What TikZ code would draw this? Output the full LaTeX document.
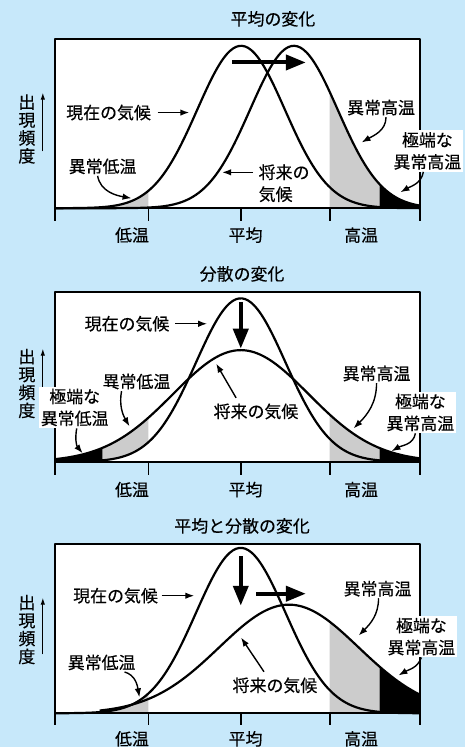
\documentclass[tikz,border=0pt]{standalone}
\usepackage{fontspec}
\setmainfont{Noto Sans CJK JP}[FakeBold=0.35]
\usetikzlibrary{arrows.meta}
\definecolor{skyback}{RGB}{199,232,250}
\definecolor{tailgray}{RGB}{204,204,204}
\tikzset{
  curve/.style={line width=2.2pt},
  frame/.style={line width=1.8pt},
  lbl/.style={inner sep=1.5pt},
  twolbl/.style={inner sep=1.5pt, align=center, font=\fontsize{17}{22}\selectfont},
  xlbl/.style={twolbl, fill=white, inner sep=2pt},
  freqlbl/.style={inner sep=0pt, align=center, font=\fontsize{17}{18}\selectfont},
  note/.style={line width=1.4pt, -{Latex[length=9pt,width=6.5pt]}},
  yarrow/.style={line width=1.1pt, -{Latex[length=7pt,width=4.5pt]}},
  shiftarrow/.style={line width=4pt, -{Triangle[length=20pt,width=15pt]}},
}
\begin{document}
\begin{tikzpicture}[x=1pt,y=1pt,font=\fontsize{17}{17.5}\selectfont,line join=round,
  declare function={g(\x,\m,\s,\h)=\h*exp(-0.5*((\x-\m)/\s)*((\x-\m)/\s));}]
\fill[skyback] (0,0) rectangle (467,750);

% mean shift
\begin{scope}[shift={(0,541)}]
  \fill[white] (55,0) rectangle (421.7,170);
  \fill[tailgray] (100,0) -- plot[domain=100:149,samples=20] (\x,{g(\x,242,44,163)}) -- (149,0) -- cycle;
  \fill[tailgray] (331,0) -- plot[domain=331:381,samples=20] (\x,{g(\x,295,44,163)}) -- (381,0) -- cycle;
  \fill (381,0) -- plot[domain=381:421.7,samples=20] (\x,{g(\x,295,44,163)}) -- (421.7,0) -- cycle;
  \draw[curve] plot[domain=55:421.7,smooth,samples=120] (\x,{g(\x,242,44,163)});
  \draw[curve] plot[domain=55:421.7,smooth,samples=120] (\x,{g(\x,295,44,163)});
  \draw[frame] (55,0) rectangle (421.7,170);
  \foreach \t in {55,149,241.7,331,421.7}
    \draw[frame] (\t,0) -- (\t,-13);
  \node (ttl1) at (274,190) {平均の変化};
  \node (lo1) at (132.5,-27) {低温};
  \node (av1) at (246.5,-27) {平均};
  \node (hi1) at (362.5,-27) {高温};
  \node[freqlbl] (freq1) at (27,79.5) {出\\現\\頻\\度};
  \coordinate (ybot1) at (43,57);
  \coordinate (ytop1) at (43,116);
  \draw[yarrow] (ybot1) -- (ytop1);
  \node[lbl] (now1) at (109,96) {現在の気候};
  \coordinate (now1tip) at (190,96);
  \draw[note] ([xshift=5pt]now1.east) -- (now1tip);
  \node[lbl] (hot1) at (382.5,101) {異常高温};
  \coordinate (hot1tip) at (363,66);
  \draw[note] ([xshift=5pt]hot1.south) to[out=-90,in=30] (hot1tip);
  \node[lbl] (cold1) at (103,42) {異常低温};
  \coordinate (cold1tip) at (132,10);
  \draw[note] ([xshift=-5pt]cold1.south) to[out=-80,in=170] (cold1tip);
  \node[twolbl, align=left, anchor=west] (fut1) at (258,25) {将来の\\気候};
  \coordinate (fut1tip) at (223,36);
  \draw[note] ([shift={(-4pt,11pt)}]fut1.west) -- (fut1tip);
  \node[xlbl] (xhot1) at (429,57.5) {極端な\\異常高温};
  \coordinate (xhot1tip) at (402,16);
  \draw[note] ([xshift=-4pt]xhot1.south) to[out=-100,in=30] (xhot1tip);
  \coordinate (mean1a) at (233,146.3);
  \coordinate (mean1b) at (307,146.3);
  \draw[shiftarrow] (mean1a) -- (mean1b);
\end{scope}

% variance change
\begin{scope}[shift={(0,286.5)}]
  \fill[white] (55,0) rectangle (421.7,170);
  \fill (55,0) -- plot[domain=55:103,samples=20] (\x,{g(\x,241.7,68,112)}) -- (103,0) -- cycle;
  \fill[tailgray] plot[domain=103:149,samples=20] (\x,{g(\x,241.7,68,112)})
    -- plot[domain=149:103,samples=20] (\x,{g(\x,241.7,45,164)}) -- cycle;
  \fill[tailgray] (331,0) -- plot[domain=331:381,samples=20] (\x,{g(\x,241.7,68,112)}) -- (381,0) -- cycle;
  \fill (381,0) -- plot[domain=381:421.7,samples=20] (\x,{g(\x,241.7,68,112)}) -- (421.7,0) -- cycle;
  \draw[curve] plot[domain=55:421.7,smooth,samples=120] (\x,{g(\x,241.7,45,164)});
  \draw[curve] plot[domain=55:421.7,smooth,samples=120] (\x,{g(\x,241.7,68,112)});
  \draw[frame] (55,0) rectangle (421.7,170);
  \foreach \t in {55,149,241.7,331,421.7}
    \draw[frame] (\t,0) -- (\t,-13);
  \node (ttl2) at (243,188.5) {分散の変化};
  \node (lo2) at (132.5,-28) {低温};
  \node (av2) at (246.5,-28) {平均};
  \node (hi2) at (362.5,-28) {高温};
  \node[freqlbl] (freq2) at (27,78.5) {出\\現\\頻\\度};
  \coordinate (ybot2) at (43,56.5);
  \coordinate (ytop2) at (43,113.5);
  \draw[yarrow] (ybot2) -- (ytop2);
  \node[lbl] (now2) at (127.5,138.5) {現在の気候};
  \coordinate (now2tip) at (208,138.5);
  \draw[note] ([xshift=4pt]now2.east) -- (now2tip);
  \node[lbl] (fut2) at (257,50.5) {将来の気候};
  \coordinate (fut2tip) at (217,98.5);
  \draw[note] ([shift={(-20pt,4pt)}]fut2.north) -- (fut2tip);
  \node[lbl] (cold2) at (137,80.5) {異常低温};
  \coordinate (cold2tip) at (130,35.5);
  \draw[note] ([xshift=-15pt]cold2.south) to[out=-100,in=120] (cold2tip);
  \node[lbl] (hot2) at (378,88.5) {異常高温};
  \coordinate (hot2tip) at (355,33.5);
  \draw[note] (hot2.south) to[out=-90,in=45] (hot2tip);
  \node[xlbl] (xcold2) at (75,54.5) {極端な\\異常低温};
  \coordinate (xcold2tip) at (83,8.5);
  \draw[note] ([xshift=2pt]xcold2.south) to[out=-100,in=130] (xcold2tip);
  \node[xlbl] (xhot2) at (422,49.5) {極端な\\異常高温};
  \coordinate (xhot2tip) at (393,10.5);
  \draw[note] ([xshift=-5pt]xhot2.south) to[out=-100,in=30] (xhot2tip);
  \coordinate (var2a) at (241.7,160.5);
  \coordinate (var2b) at (241.7,113.5);
  \draw[shiftarrow] (var2a) -- (var2b);
\end{scope}

% mean and variance change
\begin{scope}[shift={(0,34)}]
  \fill[white] (55,0) rectangle (421.7,170);
  \fill[tailgray] (100,0) -- plot[domain=100:149,samples=20] (\x,{g(\x,241.7,45,166)}) -- (149,0) -- cycle;
  \fill[tailgray] (331,0) -- plot[domain=331:381,samples=20] (\x,{g(\x,290,70,109)}) -- (381,0) -- cycle;
  \fill (381,0) -- plot[domain=381:421.7,samples=20] (\x,{g(\x,290,70,109)}) -- (421.7,0) -- cycle;
  \draw[curve] plot[domain=55:421.7,smooth,samples=120] (\x,{g(\x,241.7,45,166)});
  \draw[curve] plot[domain=100:421.7,smooth,samples=120] (\x,{g(\x,290,70,109)});
  \draw[frame] (55,0) rectangle (421.7,170);
  \foreach \t in {55,149,241.7,331,421.7}
    \draw[frame] (\t,0) -- (\t,-12);
  \node (ttl3) at (243,188) {平均と分散の変化};
  \node (lo3) at (132.5,-25.7) {低温};
  \node (av3) at (246.5,-25.7) {平均};
  \node (hi3) at (362.5,-25.7) {高温};
  \node[freqlbl] (freq3) at (27,84) {出\\現\\頻\\度};
  \coordinate (ybot3) at (43,59);
  \coordinate (ytop3) at (43,116);
  \draw[yarrow] (ybot3) -- (ytop3);
  \node[lbl] (now3) at (116,118) {現在の気候};
  \coordinate (now3tip) at (195,118);
  \draw[note] ([xshift=2pt]now3.east) -- (now3tip);
  \node[lbl] (hot3) at (379,125) {異常高温};
  \coordinate (hot3tip) at (360,78);
  \draw[note] ([xshift=1pt]hot3.south) to[out=-90,in=45] (hot3tip);
  \node[lbl] (cold3) at (102,51) {異常低温};
  \coordinate (cold3tip) at (140,16);
  \draw[note] ([xshift=23pt]cold3.south) to[out=-15,in=100] (cold3tip);
  \node[lbl] (fut3) at (276,28) {将来の気候};
  \coordinate (fut3tip) at (242,76);
  \draw[note] ([shift={(-11pt,4pt)}]fut3.north) -- (fut3tip);
  \node[xlbl] (xhot3) at (423,77) {極端な\\異常高温};
  \coordinate (xhot3tip) at (400,38);
  \draw[note] (xhot3.south) to[out=-110,in=30] (xhot3tip);
  \coordinate (var3a) at (241.7,158);
  \coordinate (var3b) at (241.7,108);
  \draw[shiftarrow] (var3a) -- (var3b);
  \coordinate (mean3a) at (257,120);
  \coordinate (mean3b) at (307,120);
  \draw[shiftarrow] (mean3a) -- (mean3b);
\end{scope}
\end{tikzpicture}
\end{document}
